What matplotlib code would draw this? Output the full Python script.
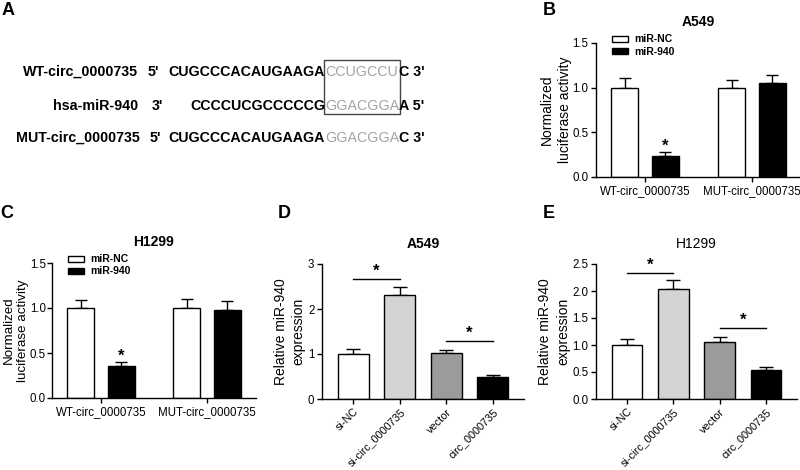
import matplotlib
matplotlib.use('Agg')
import matplotlib.pyplot as plt
from matplotlib.patches import Rectangle, Patch
import numpy as np

plt.rcParams['font.family'] = ['Liberation Sans', 'DejaVu Sans']

# panel A sequences
seq_names = ['WT-circ_0000735', 'hsa-miR-940', 'MUT-circ_0000735']
seq_ends = ["5'", "3'", "5'"]
seq_black = ['CUGCCCACAUGAAGA', 'CCCCUCGCCCCCG', 'CUGCCCACAUGAAGA']
seq_gray = ['CCUGCCU', 'GGACGGA', 'GGACGGA']
seq_tail = ["C 3'", "A 5'", "C 3'"]

# luciferase panels B and C
luc_groups = ['WT-circ_0000735', 'MUT-circ_0000735']
b_nc = [1.00, 1.00]
b_nc_err = [0.11, 0.09]
b_mir = [0.24, 1.05]
b_mir_err = [0.04, 0.095]
c_nc = [1.00, 1.00]
c_nc_err = [0.09, 0.10]
c_mir = [0.355, 0.98]
c_mir_err = [0.045, 0.10]

# expression panels D and E
expr_labels = ['si-NC', 'si-circ_0000735', 'vector', 'circ_0000735']
d_vals = [1.01, 2.31, 1.02, 0.49]
d_err = [0.11, 0.18, 0.08, 0.04]
e_vals = [1.00, 2.04, 1.05, 0.54]
e_err = [0.12, 0.16, 0.10, 0.05]
d_sig = [(0, 1, 2.67), (2, 3, 1.29)]
e_sig = [(0, 1, 2.33), (2, 3, 1.31)]
expr_colors = ['white', '#d4d4d4', '#9b9b9b', 'black']

W, H = 800, 470


def px(x, y):
    return x / W, 1 - y / H


def axes_px(fig, left, top, right, bottom):
    return fig.add_axes([left / W, 1 - bottom / H, (right - left) / W, (bottom - top) / H])


def style_axis(ax):
    for s in ['top', 'right']:
        ax.spines[s].set_visible(False)
    for s in ['left', 'bottom']:
        ax.spines[s].set_linewidth(1.0)
    ax.tick_params(direction='out', length=3.5, width=1.0, labelsize=8.3, pad=2)


def luciferase(ax, nc, nc_err, mir, mir_err, title, xright, lspace, lsize):
    x = np.arange(len(luc_groups))
    off, w = 0.19, 0.255
    ax.bar(x - off, nc, w, color='white', edgecolor='black', linewidth=1.0, zorder=2)
    ax.bar(x + off, mir, w, color='black', edgecolor='black', linewidth=1.0, zorder=2)
    ax.errorbar(x - off, nc, yerr=[np.zeros(2), nc_err], fmt='none', ecolor='black',
                elinewidth=1.0, capsize=4.3, capthick=1.0, zorder=1)
    ax.errorbar(x + off, mir, yerr=[np.zeros(2), mir_err], fmt='none', ecolor='black',
                elinewidth=1.0, capsize=4.3, capthick=1.0, zorder=1)
    ax.text(x[0] + off, mir[0] + mir_err[0] - 0.02, '*', ha='center', va='bottom',
            fontsize=12, fontweight='bold')
    ax.set_xlim(-0.46, xright)
    ax.set_ylim(0, 1.5)
    ax.set_yticks([0, 0.5, 1.0, 1.5])
    ax.set_yticklabels(['0.0', '0.5', '1.0', '1.5'])
    ax.set_xticks(x)
    ax.set_xticklabels(luc_groups)
    ax.set_ylabel('Normalized\nluciferase activity', fontsize=lsize,
                  labelpad=0.5, linespacing=lspace)
    ax.set_title(title, fontsize=10, fontweight='bold', pad=12.5)
    style_axis(ax)
    handles = [Patch(facecolor='white', edgecolor='black', linewidth=1.0),
               Patch(facecolor='black', edgecolor='black')]
    leg = ax.legend(handles, ['miR-NC', 'miR-940'], loc='upper left',
                    bbox_to_anchor=(0.06, 1.095), frameon=False, fontsize=7.5,
                    handlelength=1.5, handleheight=0.55, labelspacing=0.2,
                    handletextpad=0.6, borderaxespad=0)
    for t in leg.get_texts():
        t.set_fontweight('bold')


def expression(ax, vals, err, sig, title, yticks, ylabels, bold_title):
    x = np.arange(len(expr_labels))
    ax.bar(x, vals, 0.66, color=expr_colors, edgecolor='black', linewidth=1.0, zorder=2)
    ax.errorbar(x, vals, yerr=[np.zeros(4), err], fmt='none', ecolor='black',
                elinewidth=1.0, capsize=4.7, capthick=1.0, zorder=1)
    ymax = yticks[-1]
    for a, b, y in sig:
        ax.plot([a, b], [y, y], color='black', linewidth=1.0)
        ax.text((a + b) / 2, y, '*', ha='center', va='bottom',
                fontsize=12, fontweight='bold')
    ax.set_xlim(-0.67, 3.67)
    ax.set_ylim(0, ymax)
    ax.set_yticks(yticks)
    ax.set_yticklabels(ylabels)
    ax.set_xticks(x)
    ax.set_xticklabels(expr_labels, rotation=45, ha='right', rotation_mode='anchor')
    ax.set_ylabel('Relative miR-940\nexpression', fontsize=10, labelpad=1.5, linespacing=1.35)
    ax.set_title(title, fontsize=10, fontweight='bold' if bold_title else 'normal', pad=11.5)
    style_axis(ax)
    for lab in ax.get_xticklabels():
        lab.set_fontsize(7.8)


fig = plt.figure(figsize=(8, 4.7), dpi=100)

# panel A
rows_y = [72, 106, 138]
name_x = [138, 138, 140]
end_x = [148, 152, 150]
for i in range(3):
    y = rows_y[i]
    fig.text(*px(name_x[i], y), seq_names[i], ha='right', va='center',
             fontsize=10.3, fontweight='bold')
    fig.text(*px(end_x[i], y), seq_ends[i], ha='left', va='center',
             fontsize=10.3, fontweight='bold')
    fig.text(*px(325, y), seq_black[i], ha='right', va='center',
             fontsize=10.3, fontweight='bold')
    fig.text(*px(362, y), seq_gray[i], ha='center', va='center',
             fontsize=10.3, color='#a3a3a3')
    fig.text(*px(399, y), seq_tail[i], ha='left', va='center',
             fontsize=10.3, fontweight='bold')
x0, y0 = px(324, 114)
x1, y1 = px(400, 60)
fig.add_artist(Rectangle((x0, y0), x1 - x0, y1 - y0, transform=fig.transFigure,
                         fill=False, edgecolor='#444444', linewidth=1.0))

# panel B and C
ax_b = axes_px(fig, 596, 43, 800, 177)
luciferase(ax_b, b_nc, b_nc_err, b_mir, b_mir_err, 'A549', 1.45, 1.35, 10)
ax_c = axes_px(fig, 52, 263, 256, 398)
luciferase(ax_c, c_nc, c_nc_err, c_mir, c_mir_err, 'H1299', 1.46, 1.2, 9.6)
ax_c.tick_params(axis='y', pad=1)

# panel D and E
ax_d = axes_px(fig, 322, 264, 524, 399)
expression(ax_d, d_vals, d_err, d_sig, 'A549', [0, 1, 2, 3], ['0', '1', '2', '3'], True)
ax_e = axes_px(fig, 596, 264, 797, 399)
expression(ax_e, e_vals, e_err, e_sig, 'H1299', [0, 0.5, 1.0, 1.5, 2.0, 2.5],
           ['0.0', '0.5', '1.0', '1.5', '2.0', '2.5'], False)

# panel letters
for letter, (lx, ly) in zip('ABCDE', [(2, 2), (543, 2), (0, 205), (278, 205), (543, 205)]):
    fig.text(*px(lx, ly), letter, ha='left', va='top', fontsize=13, fontweight='bold')

fig.savefig('out.png', dpi=100)
